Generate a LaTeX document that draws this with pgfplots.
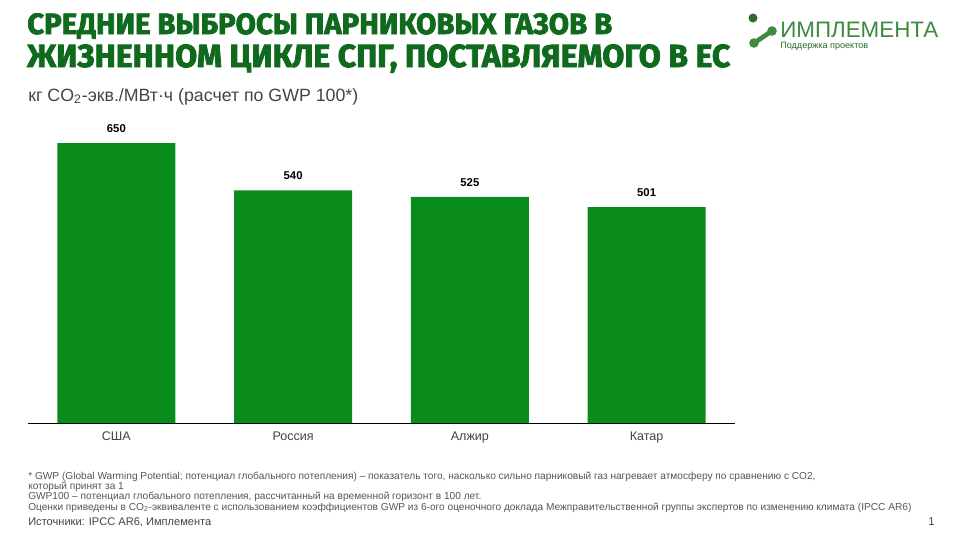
\documentclass[border=0pt]{standalone}
\usepackage{fontspec}
\usepackage{pgfplots}
\pgfplotsset{compat=1.18}
\setmainfont{Liberation Sans}
\newfontfamily\titlefont{Fira Sans}[BoldFeatures={FakeBold=2.5}]
\newfontfamily\notefont{Liberation Sans}
\definecolor{bargreen}{HTML}{0A8C1C}
\definecolor{titlegreen}{HTML}{0F6A1E}
\definecolor{logogreen}{HTML}{3F8A3F}
\definecolor{logodark}{HTML}{2E6B2E}
\definecolor{txtgray}{HTML}{444444}
\definecolor{notegray}{HTML}{555555}
\begin{document}
\begin{tikzpicture}[x=0.75pt,y=-0.75pt]
\path[fill=white,use as bounding box] (0,0) rectangle (960,540);
% title
\node[anchor=base west,inner sep=0,text=titlegreen] at (27,34) {\resizebox{438.75pt}{!}{\titlefont\bfseries СРЕДНИЕ ВЫБРОСЫ ПАРНИКОВЫХ ГАЗОВ В}};
\node[anchor=base west,inner sep=0,text=titlegreen] at (27,67) {\resizebox{527.25pt}{!}{\titlefont\bfseries ЖИЗНЕННОМ ЦИКЛЕ СПГ, ПОСТАВЛЯЕМОГО В ЕС}};
% subtitle
\node[anchor=base west,inner sep=0,text=txtgray] at (28,101) {\resizebox{247.5pt}{!}{кг CO\textsubscript{2}-экв./МВт·ч (расчет по GWP 100*)}};
% logo
\fill[logodark] (753,18) circle (4.5);
\draw[logogreen,line width=3.5pt] (754,43) -- (772,31);
\fill[logogreen] (754,43) circle (4.8);
\fill[logogreen] (772,31) circle (4.8);
\node[anchor=base west,inner sep=0,text=logogreen] at (780,37) {\resizebox{118.5pt}{!}{ИМПЛЕМЕНТА}};
\node[anchor=base west,inner sep=0,text=logodark] at (780,48) {\resizebox{66pt}{!}{Поддержка проектов}};
% chart
\begin{axis}[at={(21pt,-317.25pt)}, anchor=south west, scale only axis,
  width=530.25pt, height=226.125pt,
  ymin=0, ymax=700, xmin=-0.5, xmax=3.5,
  axis x line=bottom, axis y line=none,
  x axis line style={-, black, line width=0.75pt},
  xtick={0,1,2,3}, xticklabels={США,Россия,Алжир,Катар},
  major tick length=0pt, ytick=\empty,
  x tick label style={font=\fontsize{9.4pt}{11pt}\selectfont, text=txtgray, yshift=-3pt},
  ybar, bar width=88.5pt, clip=false,
  /pgf/number format/assume math mode=true,
  nodes near coords,
  nodes near coords style={font=\bfseries\fontsize{8.5pt}{10pt}\selectfont, text=black, yshift=4.5pt},
]
\addplot[fill=bargreen, draw=none] coordinates {(0,650) (1,540) (2,525) (3,501)};
\end{axis}
% footnotes
\begin{scope}[every node/.style={anchor=base west,inner sep=0,text=notegray,font=\notefont\fontsize{7.6pt}{8pt}\selectfont}]
\node at (28,479) {* GWP (Global Warming Potential; потенциал глобального потепления) – показатель того, насколько сильно парниковый газ нагревает атмосферу по сравнению с CO2,};
\node at (28,489) {который принят за 1};
\node at (28,499) {GWP100 – потенциал глобального потепления, рассчитанный на временной горизонт в 100 лет.};
\node at (28,510) {Оценки приведены в CO\textsubscript{2}-эквиваленте с использованием коэффициентов GWP из 6-ого оценочного доклада Межправительственной группы экспертов по изменению климата (IPCC AR6)};
\end{scope}
\node[anchor=base west,inner sep=0,text=txtgray] at (28,525) {\resizebox{137.25pt}{!}{Источники: IPCC AR6, Имплемента}};
\node[anchor=base west,inner sep=0,text=txtgray,font=\fontsize{8.5pt}{10pt}\selectfont] at (928,525) {1};
\end{tikzpicture}
\end{document}
